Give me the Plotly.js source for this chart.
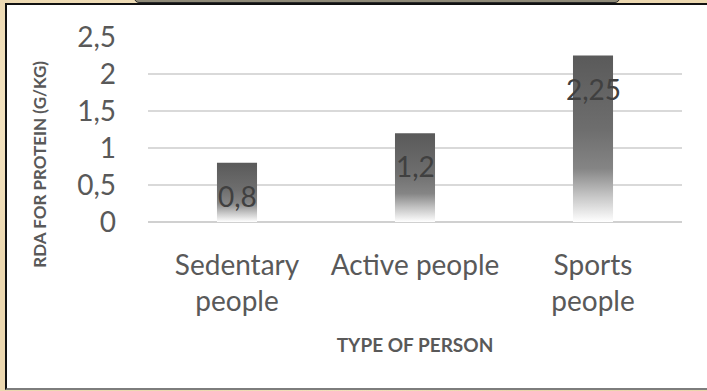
<!DOCTYPE html>
<html>
<head>
<meta charset="utf-8">
<script src="https://cdn.plot.ly/plotly-3.0.1.min.js"></script>
<style>
  html, body { margin: 0; padding: 0; }
  body {
    width: 707px; height: 391px; overflow: hidden; position: relative;
    background-color: #ecd8b0;
    background-image:
      radial-gradient(ellipse at 20% 30%, rgba(255,245,220,0.55), rgba(255,245,220,0) 40%),
      radial-gradient(ellipse at 80% 70%, rgba(210,180,130,0.35), rgba(210,180,130,0) 45%),
      radial-gradient(ellipse at 50% 90%, rgba(255,240,210,0.4), rgba(255,240,210,0) 35%);
  }
  #frame {
    position: absolute; left: 5px; top: 3px; width: 710px; height: 383px;
    background: #ffffff;
    border-left: 2px solid #111111;
    border-top: 2px solid #111111;
    border-bottom: 2px solid #7d7d7d;
  }
  #cap {
    position: absolute; left: 134px; top: -3px; width: 484px; height: 4px;
    background: #8f8a78;
    border: 1px solid #2a2a2a;
    border-radius: 0 0 5px 5px;
  }
  #chart { position: absolute; left: 0; top: 0; width: 707px; height: 391px; }
</style>
</head>
<body>
<div id="frame"></div>
<div id="cap"></div>
<div id="chart"></div>
<script>
// Recommended daily protein intake by type of person
const categories = ['Sedentary<br>people', 'Active people', 'Sports<br>people'];
const rdaValues = [0.8, 1.2, 2.25];
const valueLabels = ['0,8', '1,2', '2,25'];
const yTickValues = [0, 0.5, 1, 1.5, 2, 2.5];
const yTickLabels = ['0', '0,5', '1', '1,5', '2', '2,5'];

const FONT = 'Lato, "Open Sans", sans-serif';
const GREY = '#595959';

const trace = {
  type: 'bar',
  x: categories,
  y: rdaValues,
  marker: { color: '#6e6e6e', line: { width: 0 } },
  hoverinfo: 'none'
};

// value labels sit inside the top of each bar
const labelAnnotations = rdaValues.map((v, i) => ({
  x: categories[i], y: v, xref: 'x', yref: 'y',
  text: valueLabels[i], showarrow: false,
  yanchor: 'middle', yshift: -33,
  font: { family: FONT, size: 28, color: '#404040' }
}));

// vertical y-axis title, placed a little below the plot's centre line
const yTitle = {
  xref: 'paper', yref: 'paper', x: -0.2022, y: 0.31,
  xanchor: 'center', yanchor: 'middle', textangle: -90,
  text: '<b>RDA FOR PROTEIN (G/KG)</b>', showarrow: false,
  font: { family: FONT, size: 17, color: GREY }
};

const layout = {
  width: 707, height: 391,
  margin: { l: 148, r: 25, t: 37, b: 169 },
  paper_bgcolor: 'rgba(0,0,0,0)',
  plot_bgcolor: 'rgba(0,0,0,0)',
  bargap: 0.775,
  showlegend: false,
  font: { family: FONT, color: GREY },
  xaxis: {
    type: 'category',
    showgrid: false, showline: false, zeroline: false,
    ticks: '', ticklabelstandoff: 24,
    tickfont: { family: FONT, size: 28, color: GREY },
    title: { text: 'TYPE OF PERSON', standoff: 22,
             font: { family: FONT, size: 19, color: GREY, weight: 'bold' } },
    automargin: false
  },
  yaxis: {
    range: [0, 2.5],
    tickvals: yTickValues, ticktext: yTickLabels,
    showgrid: true, gridcolor: '#d9d9d9', gridwidth: 2,
    zeroline: true, zerolinecolor: '#d0d0d0', zerolinewidth: 2,
    showline: false, ticks: '', ticklabelstandoff: 31,
    tickfont: { family: FONT, size: 28, color: GREY },
    automargin: false
  },
  annotations: labelAnnotations.concat([yTitle])
};

Plotly.newPlot('chart', [trace], layout, { displayModeBar: false, staticPlot: true }).then(gd => {
  // vertical fade on each bar: dark grey at the top, white at the base
  const svgNS = 'http://www.w3.org/2000/svg';
  const defs = gd.querySelector('.main-svg defs');
  const grad = document.createElementNS(svgNS, 'linearGradient');
  grad.setAttribute('id', 'barFade');
  grad.setAttribute('x1', '0'); grad.setAttribute('y1', '0');
  grad.setAttribute('x2', '0'); grad.setAttribute('y2', '1');
  [['0', '#5a5a5a'], ['0.45', '#6e6e6e'], ['0.68', '#858585'],
   ['0.84', '#c4c4c4'], ['1', '#ffffff']].forEach(([o, c]) => {
    const s = document.createElementNS(svgNS, 'stop');
    s.setAttribute('offset', o);
    s.setAttribute('stop-color', c);
    grad.appendChild(s);
  });
  defs.appendChild(grad);
  gd.querySelectorAll('.trace.bars .point path').forEach(p => {
    p.style.fill = 'url(#barFade)';
    p.style.fillOpacity = 1;
  });
});
</script>
</body>
</html>
